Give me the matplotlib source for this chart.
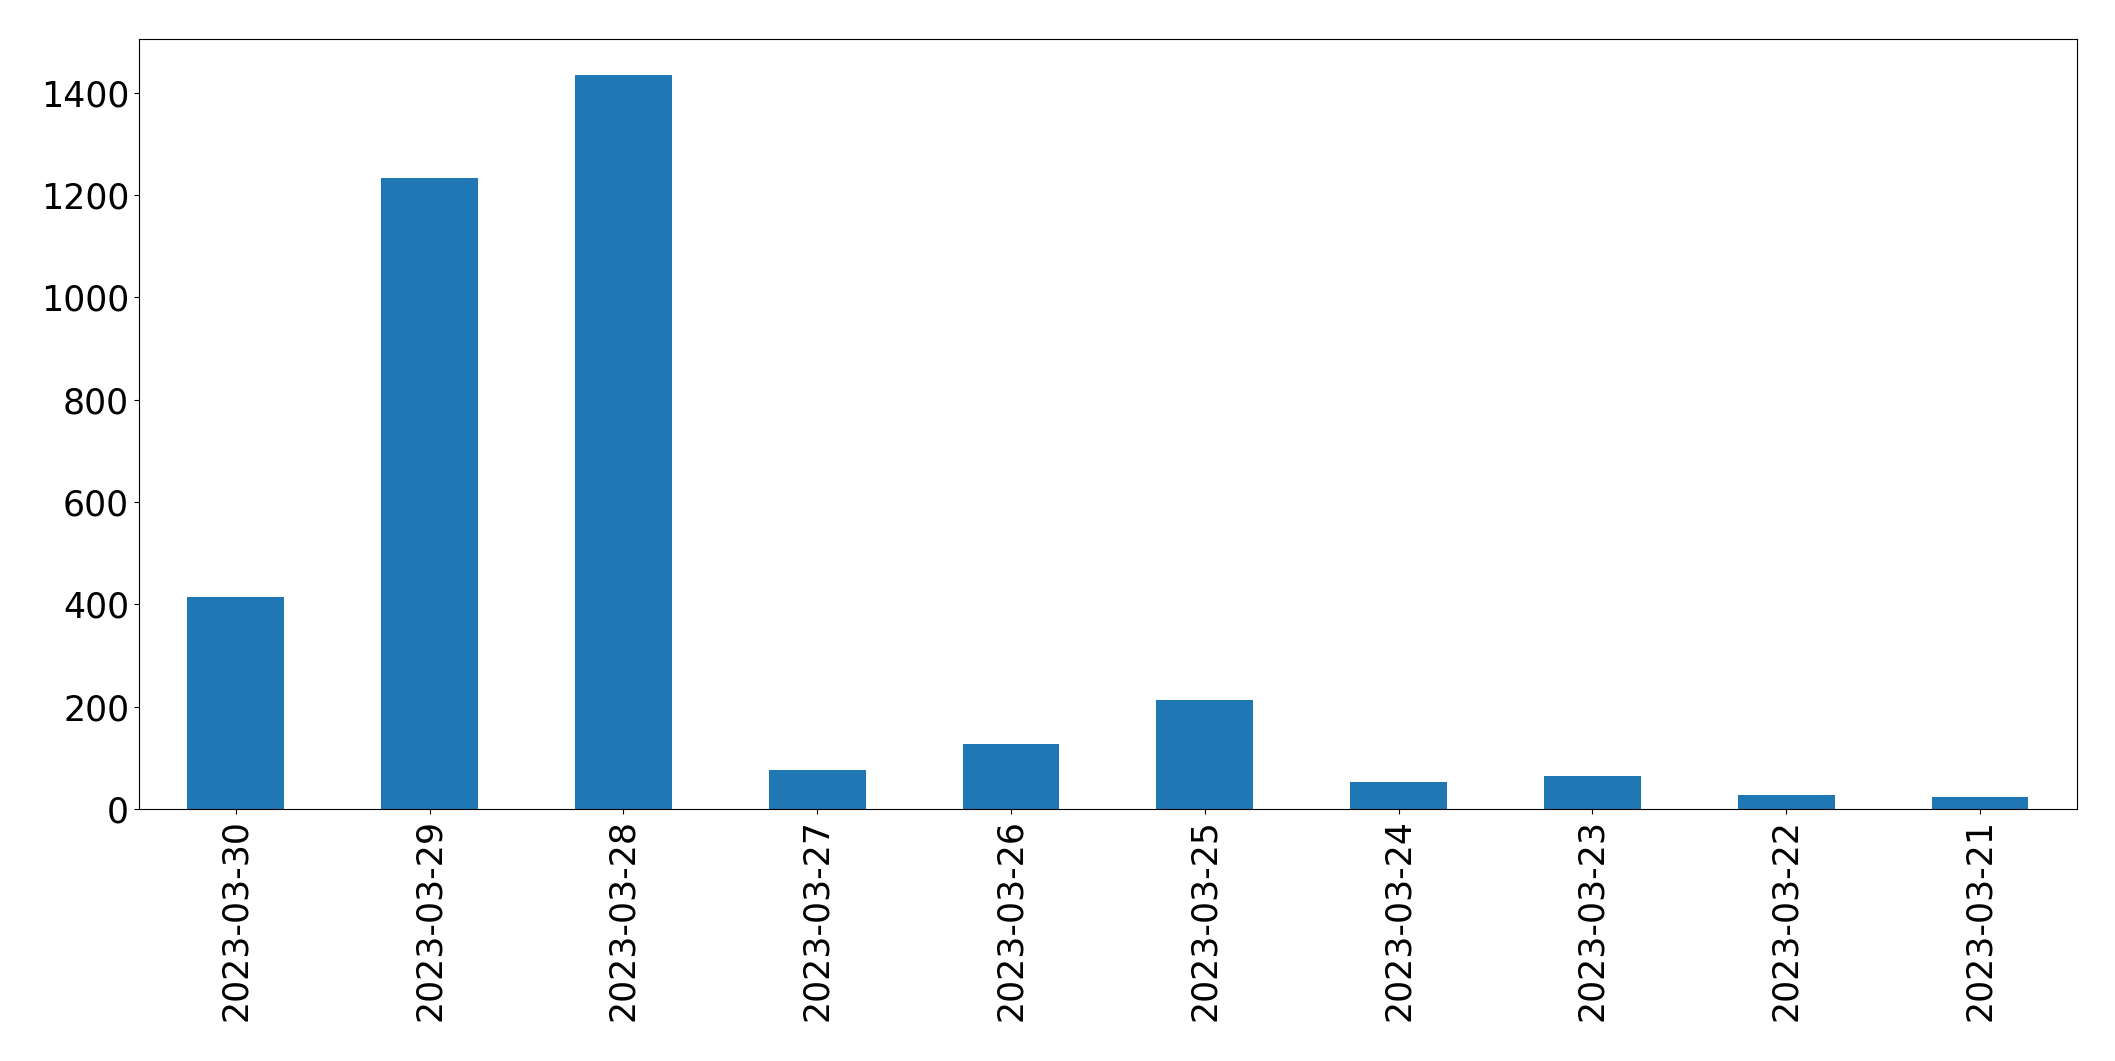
import matplotlib
matplotlib.use("Agg")
import matplotlib.pyplot as plt

dates = ["2023-03-30", "2023-03-29", "2023-03-28", "2023-03-27", "2023-03-26",
         "2023-03-25", "2023-03-24", "2023-03-23", "2023-03-22", "2023-03-21"]
counts = [414, 1234, 1434, 76, 127, 213, 53, 65, 27, 24]
yticks = [0, 200, 400, 600, 800, 1000, 1200, 1400]

fig = plt.figure(figsize=(21.15, 10.61), dpi=100)
ax = fig.add_axes([0.0657, 0.2375, 0.9163, 0.7257])
x = range(len(dates))
ax.bar(x, counts, width=0.5, color="#1f77b4")
ax.set_xlim(-0.5, len(dates) - 0.5)
ax.set_ylim(0, 1505)
ax.set_yticks(yticks)
ax.set_xticks(list(x))
ax.set_xticklabels(dates, rotation=90)
ax.tick_params(axis="both", labelsize=25)
fig.savefig("out.png", dpi=100)
